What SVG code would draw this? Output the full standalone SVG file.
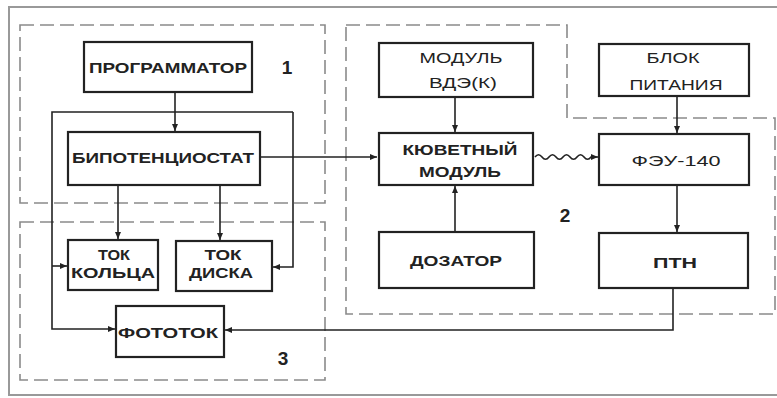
<svg xmlns="http://www.w3.org/2000/svg" width="777" height="398" viewBox="0 0 777 398">
<style>
.box{fill:#fff;stroke:#222;stroke-width:2.2}
.reg{fill:none;stroke:#8a8a8a;stroke-width:1.6;stroke-dasharray:14 6}
.ln{fill:none;stroke:#222;stroke-width:1.6}
.t{font-family:"Liberation Sans",Arial,sans-serif;font-size:15px;font-weight:bold;fill:#222;text-anchor:middle}
.n{font-weight:normal}
.num{font-family:"Liberation Sans",Arial,sans-serif;font-size:19px;font-weight:bold;fill:#222;text-anchor:middle}
</style>
<defs>
<marker id="ar" markerWidth="7" markerHeight="6" refX="7" refY="3" orient="auto" markerUnits="userSpaceOnUse">
<path d="M0,0 L7,3 L0,6 Z" fill="#222"/>
</marker>
</defs>
<rect x="0" y="0" width="777" height="398" fill="#fff"/>
<rect x="9" y="7" width="780" height="388" fill="none" stroke="#999" stroke-width="2"/>
<g id="regions">
<rect class="reg" x="20" y="25" width="305" height="178"/>
<rect class="reg" x="20" y="222" width="305" height="158"/>
<path class="reg" d="M346,25 H567 V118 H775 V314 H346 Z"/>
</g>
<g id="connectors">
<path class="ln" d="M175,92 V131" marker-end="url(#ar)"/>
<path class="ln" d="M293,112 H52 V329 H115" marker-end="url(#ar)"/>
<path class="ln" d="M293,112 V267 H273" marker-end="url(#ar)"/>
<path class="ln" d="M52,266 H67" marker-end="url(#ar)"/>
<path class="ln" d="M118,185 V239" marker-end="url(#ar)"/>
<path class="ln" d="M220,185 V240" marker-end="url(#ar)"/>
<path class="ln" d="M260,157 H377" marker-end="url(#ar)"/>
<path class="ln" d="M455,97 V132" marker-end="url(#ar)"/>
<path class="ln" d="M455,232 V186" marker-end="url(#ar)"/>
<path class="ln" d="M535,157 q3.5,-4.5 7,0 t7,0 t7,0 t7,0 t7,0 t7,0 t7,0 t7,0 H598" marker-end="url(#ar)"/>
<path class="ln" d="M677,96 V133" marker-end="url(#ar)"/>
<path class="ln" d="M677,185 V232" marker-end="url(#ar)"/>
<path class="ln" d="M673,288 V330 H225" marker-end="url(#ar)"/>
</g>
<g id="programmator">
<rect class="box" x="84" y="42" width="168" height="50"/>
<text class="t" x="168" y="73" textLength="158" lengthAdjust="spacingAndGlyphs">ПРОГРАММАТОР</text>
</g>
<g id="bipotentiostat">
<rect class="box" x="68" y="132" width="192" height="53"/>
<text class="t" x="163" y="163" textLength="182" lengthAdjust="spacingAndGlyphs">БИПОТЕНЦИОСТАТ</text>
</g>
<g id="tok-koltsa">
<rect class="box" x="68" y="240" width="90" height="50"/>
<text class="t" x="114" y="260" textLength="32" lengthAdjust="spacingAndGlyphs">ТОК</text>
<text class="t" x="113" y="278" textLength="84" lengthAdjust="spacingAndGlyphs">КОЛЬЦА</text>
</g>
<g id="tok-diska">
<rect class="box" x="176" y="241" width="96" height="50"/>
<text class="t" x="223" y="260" textLength="37" lengthAdjust="spacingAndGlyphs">ТОК</text>
<text class="t" x="221" y="278" textLength="64" lengthAdjust="spacingAndGlyphs">ДИСКА</text>
</g>
<g id="fototok">
<rect class="box" x="116" y="306" width="108" height="51"/>
<text class="t" x="168" y="338" textLength="100" lengthAdjust="spacingAndGlyphs">ФОТОТОК</text>
</g>
<g id="modul-vde">
<rect class="box" x="379" y="43" width="154" height="54"/>
<text class="t n" x="461" y="63" textLength="83" lengthAdjust="spacingAndGlyphs">МОДУЛЬ</text>
<text class="t n" x="463" y="88" textLength="68" lengthAdjust="spacingAndGlyphs">ВДЭ(К)</text>
</g>
<g id="kuvetnyi">
<rect class="box" x="379" y="133" width="154" height="52"/>
<text class="t" x="460" y="155" textLength="115" lengthAdjust="spacingAndGlyphs">КЮВЕТНЫЙ</text>
<text class="t" x="460" y="177" textLength="82" lengthAdjust="spacingAndGlyphs">МОДУЛЬ</text>
</g>
<g id="dozator">
<rect class="box" x="379" y="232" width="155" height="56"/>
<text class="t" x="456" y="266" textLength="92" lengthAdjust="spacingAndGlyphs">ДОЗАТОР</text>
</g>
<g id="blok-pitaniya">
<rect class="box" x="599" y="44" width="150" height="52"/>
<text class="t n" x="673" y="63" textLength="53" lengthAdjust="spacingAndGlyphs">БЛОК</text>
<text class="t n" x="676" y="90" textLength="93" lengthAdjust="spacingAndGlyphs">ПИТАНИЯ</text>
</g>
<g id="feu">
<rect class="box" x="599" y="134" width="150" height="51"/>
<text class="t n" x="676" y="166" textLength="89" lengthAdjust="spacingAndGlyphs">ФЭУ-140</text>
</g>
<g id="ptn">
<rect class="box" x="599" y="233" width="149" height="55"/>
<text class="t" x="675" y="268" textLength="44" lengthAdjust="spacingAndGlyphs">ПТН</text>
</g>
<g id="labels">
<text class="num" x="287" y="74">1</text>
<text class="num" x="565" y="222">2</text>
<text class="num" x="283" y="365">3</text>
</g>
</svg>
